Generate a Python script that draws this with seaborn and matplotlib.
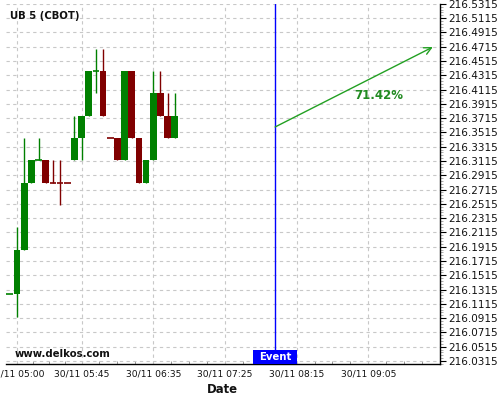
import numpy as np
import pandas as pd
import matplotlib
matplotlib.use("Agg")
import matplotlib.pyplot as plt
import seaborn as sns
from matplotlib.ticker import FixedLocator, AutoMinorLocator, FormatStrFormatter
from matplotlib.patches import Rectangle
from matplotlib.transforms import blended_transform_factory

# ---------------- data ----------------
times = ["04:55", "05:00", "05:05", "05:10", "05:15", "05:20", "05:25", "05:30",
         "05:35", "05:40", "05:45", "05:50", "05:55", "06:00", "06:05", "06:10",
         "06:15", "06:20", "06:25", "06:30", "06:35", "06:40", "06:45", "06:50"]
opens = [216.125, 216.125, 216.1875, 216.28125, 216.3125, 216.3125, 216.28125, 216.28125,
         216.28125, 216.3125, 216.34375, 216.375, 216.4375, 216.4375, 216.34375, 216.34375,
         216.3125, 216.4375, 216.34375, 216.28125, 216.3125, 216.40625, 216.375, 216.34375]
highs = [216.125, 216.21875, 216.34375, 216.3125, 216.34375, 216.3125, 216.3125, 216.3125,
         216.28125, 216.375, 216.375, 216.4375, 216.46875, 216.46875, 216.34375, 216.34375,
         216.4375, 216.4375, 216.34375, 216.3125, 216.4375, 216.4375, 216.40625, 216.40625]
lows = [216.125, 216.09375, 216.1875, 216.28125, 216.3125, 216.28125, 216.28125, 216.25,
        216.28125, 216.3125, 216.3125, 216.375, 216.40625, 216.375, 216.34375, 216.3125,
        216.3125, 216.34375, 216.28125, 216.28125, 216.3125, 216.375, 216.34375, 216.34375]
closes = [216.125, 216.1875, 216.28125, 216.3125, 216.3125, 216.28125, 216.28125, 216.28125,
          216.28125, 216.34375, 216.375, 216.4375, 216.4375, 216.375, 216.34375, 216.3125,
          216.4375, 216.34375, 216.28125, 216.3125, 216.40625, 216.375, 216.34375, 216.375]

xtick_times = ["05:00", "05:45", "06:35", "07:25", "08:15", "09:05"]
xtick_labels = ["30/11 05:00", "30/11 05:45", "30/11 06:35",
                "30/11 07:25", "30/11 08:15", "30/11 09:05"]

title = "UB 5 (CBOT)"
event_time = "08:00"
arrow_start = ("08:00", 216.3591)
arrow_end = ("09:50", 216.4710)
pct_label = "71.42%"
pct_pos = ("09:12", 216.4029)

# ---------------- helpers ----------------
def to_min(t):
    h, m = t.split(":")
    return (int(h) - 5) * 60 + int(m)

df = pd.DataFrame({"time": times, "open": opens, "high": highs,
                   "low": lows, "close": closes})
df["x"] = df["time"].map(to_min)

GREEN = "#008000"
RED = "#800000"
cols = []
prev = GREEN
for o, c in zip(df["open"], df["close"]):
    if c > o:
        prev = GREEN
    elif c < o:
        prev = RED
    cols.append(prev)
df["color"] = cols

# ---------------- figure ----------------
sns.set_theme(style="white")
plt.rcParams["font.family"] = ["DejaVu Sans"]

fig = plt.figure(figsize=(5, 4), dpi=100)
ax = fig.add_axes([0.0114, 0.09, 0.8676, 0.90125])

ax.grid(True, which="major", linestyle=(0, (3, 3)), color="#c8c8c8", lw=0.8)
ax.set_axisbelow(True)

W = 4.7
ax.vlines(df["x"], df["low"], df["high"], colors=df["color"], lw=1.0, zorder=2)
body = df[df["open"] != df["close"]]
ax.bar(body["x"], body["close"] - body["open"], bottom=body["open"], width=W,
       color=body["color"], edgecolor="none", zorder=3)
doji = df[df["open"] == df["close"]]
ax.hlines(doji["close"], doji["x"] - W / 2, doji["x"] + W / 2,
          colors=doji["color"], lw=1.2, zorder=3)

# event
ex = to_min(event_time)
ax.axvline(ex, color="#0000ff", lw=1.0, zorder=4)
trans = blended_transform_factory(ax.transData, ax.transAxes)
ax.add_patch(Rectangle((ex - 15.6, 0.0), 30.8, 0.0388, transform=trans,
                       facecolor="#0000ff", edgecolor="none", zorder=5, clip_on=False))
ax.text(ex, 0.0194, "Event", transform=trans, color="white", weight="bold",
        fontsize=7.3, ha="center", va="center", zorder=6)

# arrow
ax.annotate("", xy=(to_min(arrow_end[0]), arrow_end[1]),
            xytext=(to_min(arrow_start[0]), arrow_start[1]),
            arrowprops=dict(arrowstyle="->", color="#22a022", lw=1.0,
                            mutation_scale=13, shrinkA=0, shrinkB=0), zorder=6)
ax.text(to_min(pct_pos[0]), pct_pos[1], pct_label, color="#228b22",
        weight="bold", fontsize=8.5, ha="center", va="center")

ax.text(0.0099, 0.966, title, transform=ax.transAxes, weight="bold",
        fontsize=7.3, ha="left", va="center", color="#111111")
ax.text(0.0214, 0.0277, "www.delkos.com", transform=ax.transAxes, weight="bold",
        fontsize=7.3, ha="left", va="center", color="#111111")

# axes limits / ticks
ax.set_xlim(-7.9, 294.65)
ax.set_ylim(216.0274, 216.5319)

xmaj = [to_min(t) for t in xtick_times]
ax.xaxis.set_major_locator(FixedLocator(xmaj))
ax.set_xticklabels(xtick_labels)
xmin = []
for a, b in zip(xmaj[:-1], xmaj[1:]):
    xmin += [a + (b - a) * k / 4 for k in (1, 2, 3)]
xmin += [xmaj[-1] + 12.5, xmaj[-1] + 25, xmaj[-1] + 37.5]
ax.xaxis.set_minor_locator(FixedLocator(xmin))
ax.tick_params(axis="x", which="major", direction="in", length=3, width=0.8,
               labelsize=6.6, pad=4, colors="black", labelcolor="#111111")
ax.tick_params(axis="x", which="minor", direction="in", length=2, width=0.6,
               colors="#888888", bottom=True)

ax.yaxis.tick_right()
ax.yaxis.set_major_locator(FixedLocator(np.arange(216.0315, 216.54, 0.02)))
ax.yaxis.set_major_formatter(FormatStrFormatter("%.4f"))
ax.yaxis.set_minor_locator(AutoMinorLocator(5))
ax.tick_params(axis="y", which="major", direction="out", length=4, width=0.8,
               labelsize=7.5, pad=2, right=True, left=False, colors="black",
               labelcolor="#111111")
ax.tick_params(axis="y", which="minor", direction="out", length=2, width=0.5,
               right=True, left=False, colors="#888888")

for s in ["left", "top"]:
    ax.spines[s].set_visible(False)
for s in ["right", "bottom"]:
    ax.spines[s].set_visible(True)
    ax.spines[s].set_color("black")
    ax.spines[s].set_linewidth(1.0)

ax.set_xlabel("Date", weight="bold", fontsize=8.4, labelpad=3, color="#111111")
ax.set_ylabel("")

fig.savefig("out.png", dpi=100)
